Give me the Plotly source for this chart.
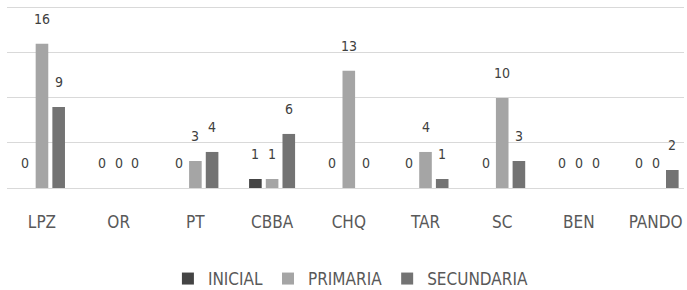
import plotly.graph_objects as go

categories = ["LPZ", "OR", "PT", "CBBA", "CHQ", "TAR", "SC", "BEN", "PANDO"]
inicial = [0, 0, 0, 1, 0, 0, 0, 0, 0]
primaria = [16, 0, 3, 1, 13, 4, 10, 0, 0]
secundaria = [9, 0, 4, 6, 0, 1, 3, 0, 2]

series = [
    ("INICIAL", inicial, "#444444"),
    ("PRIMARIA", primaria, "#a5a5a5"),
    ("SECUNDARIA", secundaria, "#737373"),
]

FONT = "DejaVu Sans Condensed, Liberation Sans Narrow, sans-serif"

fig = go.Figure()
annotations = []
for i, (name, vals, color) in enumerate(series):
    fig.add_trace(go.Bar(x=categories, y=vals, name=name, marker=dict(color=color, line=dict(width=0))))
    for c, v in zip(categories, vals):
        annotations.append(dict(x=c, y=v, xref="x", yref="y", text=str(v), showarrow=False,
                                xshift=(i - 1) * 16.7, yshift=25, yanchor="middle",
                                font=dict(family=FONT, size=14, color="#404040")))

fig.update_layout(
    width=687, height=290,
    margin=dict(l=7, r=3, t=6, b=102, autoexpand=False),
    paper_bgcolor="white", plot_bgcolor="white",
    barmode="group", bargap=0.347, bargroupgap=0.245,
    annotations=annotations,
    showlegend=True,
    legend=dict(orientation="h", x=0.508, xanchor="center", y=-0.50, yanchor="middle",
                font=dict(family=FONT, size=17, color="#595959"), itemwidth=30,
                traceorder="normal"),
    font=dict(family=FONT),
)
fig.update_xaxes(range=[-0.456, 8.37], showline=False, ticks="",
                 tickfont=dict(family=FONT, size=17, color="#595959"),
                 ticklabelstandoff=22, automargin=False)
fig.update_yaxes(range=[0, 20.2], tickvals=[0, 5, 10, 15, 20], showticklabels=False,
                 gridcolor="#d9d9d9", gridwidth=1, automargin=False,
                 zeroline=True, zerolinecolor="#d9d9d9", zerolinewidth=1)

fig.write_html("out.html", config={"displayModeBar": False},
               post_script="document.body.style.margin='0';")
